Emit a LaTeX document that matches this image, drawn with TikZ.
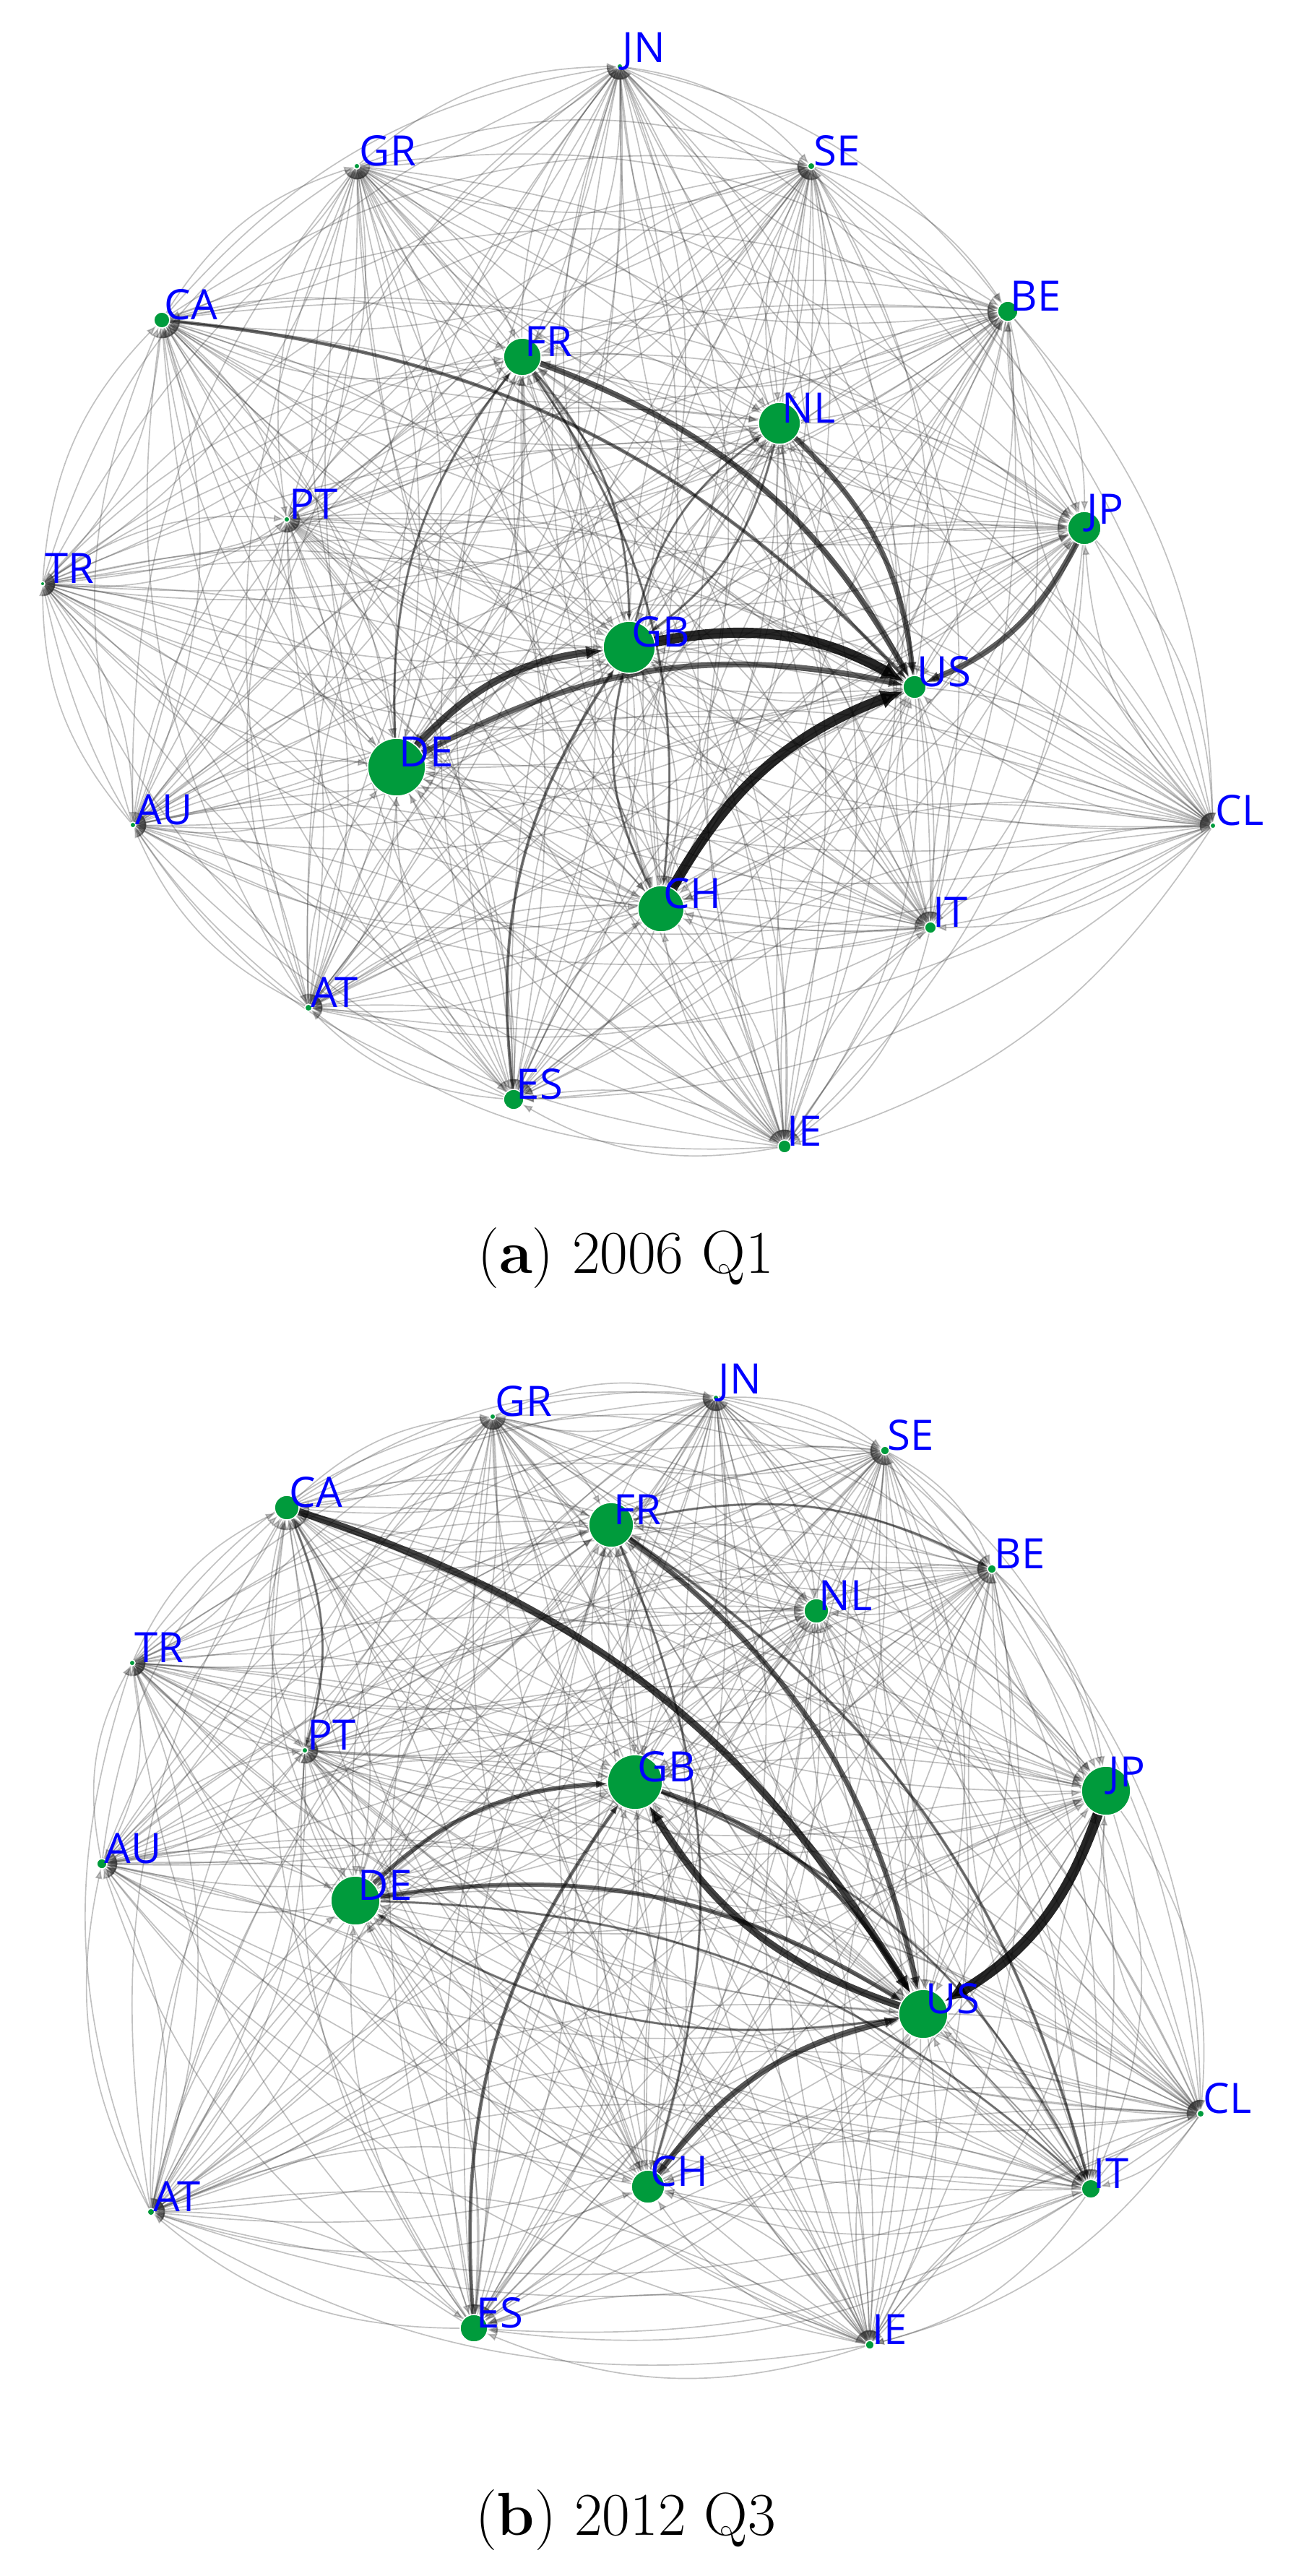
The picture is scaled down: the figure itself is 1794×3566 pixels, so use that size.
\documentclass[tikz,border=0pt]{standalone}
\usepackage{fontspec}
\newfontfamily\labfont{Open Sans}
\usetikzlibrary{arrows.meta}
\pgfdeclarelayer{edges}
\pgfsetlayers{edges,main}
\definecolor{dotgreen}{RGB}{0,155,60}
\definecolor{labblue}{RGB}{0,0,255}
\tikzset{
  dot/.style={circle, fill=dotgreen, draw=white, line width=0.4pt, inner sep=0pt, outer sep=0pt},
  lab/.style={anchor=west, inner sep=0pt, text=labblue, font=\labfont\fontsize{14.5}{14.5}\selectfont},
  bgedge/.style={draw=black!80, line width=0.42pt, opacity=0.3, -{Latex[length=3.5pt,width=2.6pt]}},
  hv/.style={draw=black, -{Latex[length=1pt 2, width=0pt 1.9]}},
  captext/.style={inner sep=0pt, font=\fontsize{21}{21}\selectfont}
}
\newcommand\cn[5]{%
  \node[dot,minimum size=#5*0.5pt] (#1#2) at (#3,#4) {};
  \node[lab] (#1#2l) at ({#3+3},{#4-21}) {#2};}
\newcommand\hedge[5]{\draw[hv,line width=#3pt,opacity=#4] (#1) to[bend left=#5] (#2);}
\begin{document}
\begin{tikzpicture}[x=0.25pt,y=-0.25pt]
\useasboundingbox (0,0) rectangle (1794,3566);
% ---------------- panel (a)
\cn{a}{JN}{858}{92}{4}
\cn{a}{GR}{494}{230}{4}
\cn{a}{SE}{1123}{230}{5}
\cn{a}{CA}{224}{443}{11}
\cn{a}{BE}{1395}{431}{14}
\cn{a}{FR}{723}{494}{26}
\cn{a}{NL}{1079}{586}{29}
\cn{a}{PT}{397}{719}{4}
\cn{a}{JP}{1501}{731}{23}
\cn{a}{TR}{59}{808}{3}
\cn{a}{GB}{871}{896}{36}
\cn{a}{US}{1266}{951}{16}
\cn{a}{DE}{549}{1062}{40}
\cn{a}{AU}{184}{1142}{4}
\cn{a}{CL}{1679}{1143}{4}
\cn{a}{CH}{915}{1258}{32}
\cn{a}{IT}{1288}{1284}{8}
\cn{a}{AT}{427}{1395}{5}
\cn{a}{ES}{711}{1522}{14}
\cn{a}{IE}{1086}{1587}{9}
\node[captext] (capa) at (866,1742) {(\textbf{a}) 2006 Q1};
% ---------------- panel (b)
\cn{b}{GR}{682}{1961}{4}
\cn{b}{JN}{991}{1935}{4}
\cn{b}{SE}{1225}{2008}{6}
\cn{b}{CA}{397}{2087}{17}
\cn{b}{FR}{846}{2111}{31}
\cn{b}{BE}{1373}{2172}{6}
\cn{b}{NL}{1130}{2230}{17}
\cn{b}{TR}{183}{2302}{4}
\cn{b}{PT}{422}{2423}{4}
\cn{b}{GB}{879}{2467}{38}
\cn{b}{JP}{1531}{2479}{34}
\cn{b}{AU}{141}{2580}{7}
\cn{b}{DE}{492}{2631}{34}
\cn{b}{US}{1278}{2788}{34}
\cn{b}{CL}{1662}{2926}{5}
\cn{b}{CH}{897}{3027}{23}
\cn{b}{IT}{1510}{3030}{13}
\cn{b}{AT}{209}{3062}{5}
\cn{b}{ES}{656}{3223}{19}
\cn{b}{IE}{1204}{3246}{6}
\node[captext] (capb) at (866,3488) {(\textbf{b}) 2012 Q3};
% ---------------- edges
\begin{pgfonlayer}{edges}
\foreach \p in {a,b}{
  \foreach \i in {JN,GR,SE,CA,BE,FR,NL,PT,JP,TR,GB,US,DE,AU,CL,CH,IT,AT,ES,IE}{
    \foreach \j in {JN,GR,SE,CA,BE,FR,NL,PT,JP,TR,GB,US,DE,AU,CL,CH,IT,AT,ES,IE}{
      \ifx\i\j\else\draw[bgedge] (\p\i) to[bend left=20] (\p\j);\fi
    }
  }
}
% heavy edges panel (a)
\hedge{aGB}{aUS}{3.5}{0.85}{20}
\hedge{aCH}{aUS}{3.5}{0.85}{20}
\hedge{aDE}{aGB}{2.5}{0.72}{20}
\hedge{aDE}{aUS}{2}{0.6}{20}
\hedge{aFR}{aUS}{2}{0.65}{20}
\hedge{aNL}{aUS}{1.8}{0.62}{20}
\hedge{aJP}{aUS}{2}{0.62}{20}
\hedge{aCA}{aUS}{1.2}{0.55}{20}
\hedge{aES}{aGB}{1}{0.5}{20}
\hedge{aDE}{aFR}{0.8}{0.45}{20}
\hedge{aFR}{aCH}{0.8}{0.45}{20}
\hedge{aGB}{aNL}{0.8}{0.45}{20}
\hedge{aNL}{aGB}{0.8}{0.45}{20}
\hedge{aFR}{aGB}{0.8}{0.45}{20}
\hedge{aCH}{aGB}{0.8}{0.45}{20}
% heavy edges panel (b)
\hedge{bJP}{bUS}{3.5}{0.85}{20}
\hedge{bCA}{bUS}{2.5}{0.75}{20}
\hedge{bUS}{bGB}{2.5}{0.75}{20}
\hedge{bGB}{bUS}{1.5}{0.6}{20}
\hedge{bFR}{bUS}{1.8}{0.62}{20}
\hedge{bCH}{bUS}{2}{0.65}{20}
\hedge{bDE}{bUS}{1.5}{0.6}{20}
\hedge{bDE}{bGB}{1.5}{0.6}{20}
\hedge{bES}{bGB}{1.2}{0.55}{20}
\hedge{bFR}{bIT}{1}{0.5}{20}
\hedge{bDE}{bIT}{0.8}{0.45}{20}
\hedge{bFR}{bBE}{0.8}{0.45}{20}
\hedge{bCA}{bPT}{0.8}{0.45}{20}
\hedge{bUS}{bDE}{0.8}{0.45}{20}
\hedge{bFR}{bCH}{0.8}{0.45}{20}
\hedge{bGB}{bIT}{0.8}{0.45}{20}
\end{pgfonlayer}
\end{tikzpicture}
\end{document}
